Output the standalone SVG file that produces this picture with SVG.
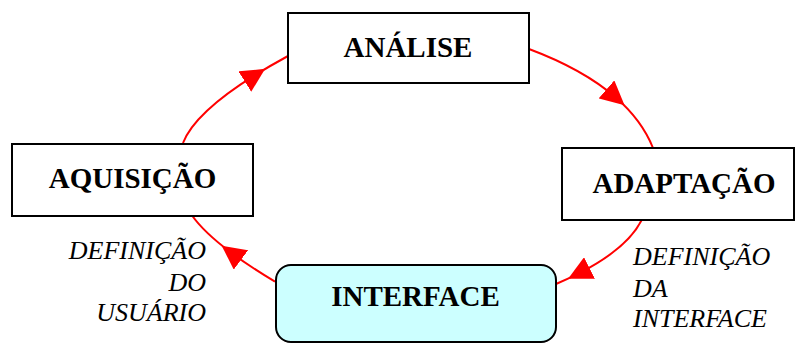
<svg xmlns="http://www.w3.org/2000/svg" width="795" height="343" viewBox="0 0 795 343">
<style>
.box{fill:#ffffff;stroke:#000000;stroke-width:2}
.ibox{fill:#ccffff;stroke:#000000;stroke-width:2}
.t{font-family:"Liberation Serif","Times New Roman",serif;font-weight:bold;font-size:29px;fill:#000000;text-anchor:middle}
.lbl{font-family:"Liberation Serif","Times New Roman",serif;font-style:italic;font-size:26px;fill:#000000}
.c{fill:none;stroke:#ff0000;stroke-width:2;marker-mid:url(#ah)}
</style>
<defs>
<marker id="ah" viewBox="0 0 24 24" markerWidth="24" markerHeight="24" refX="12" refY="12" orient="auto" markerUnits="userSpaceOnUse">
<path d="M0,0 L24,12 L0,24 z" fill="#ff0000"/>
</marker>
</defs>
<g id="connectors">
<path class="c" d="M183,143 Q195,112.6 255,75.2 Q270,65.8 288,56"/>
<path class="c" d="M529,49 Q583.5,69.4 615.5,97.3 Q641.8,120.1 653,148"/>
<path class="c" d="M641.7,220 Q627.2,248.7 578.8,273.4 Q568.2,278.8 556,284"/>
<path class="c" d="M275,281.7 Q249.7,266.5 231.3,252.8 Q203.7,232.2 191.7,215"/>
</g>
<g id="analise">
<rect class="box" x="288" y="13" width="241" height="70"/>
<text class="t" x="408" y="57">ANÁLISE</text>
</g>
<g id="aquisicao">
<rect class="box" x="12" y="144" width="241" height="72"/>
<text class="t" x="132.5" y="188">AQUISIÇÃO</text>
</g>
<g id="adaptacao">
<rect class="box" x="562" y="148" width="232" height="72"/>
<text class="t" x="684" y="192.5">ADAPTAÇÃO</text>
</g>
<g id="interface">
<rect class="ibox" x="276" y="265" width="280" height="77" rx="15" ry="15"/>
<text class="t" x="415.5" y="306">INTERFACE</text>
</g>
<g id="label-usuario">
<text class="lbl" text-anchor="end" x="206" y="259">DEFINIÇÃO</text>
<text class="lbl" text-anchor="end" x="206" y="291">DO</text>
<text class="lbl" text-anchor="end" x="206" y="321">USUÁRIO</text>
</g>
<g id="label-interface">
<text class="lbl" x="633" y="265">DEFINIÇÃO</text>
<text class="lbl" x="633" y="297">DA</text>
<text class="lbl" x="633" y="327">INTERFACE</text>
</g>
</svg>
